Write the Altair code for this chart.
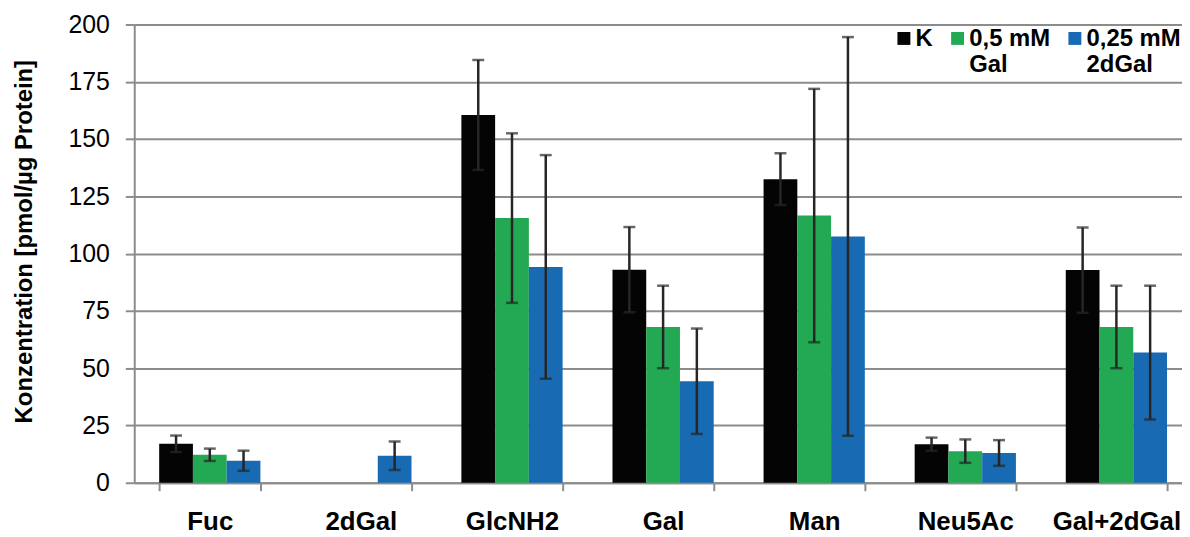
import altair as alt
import pandas as pd

categories = ["Fuc", "2dGal", "GlcNH2", "Gal", "Man", "Neu5Ac", "Gal+2dGal"]
groups = ["K", "0,5 mM Gal", "0,25 mM 2dGal"]
colors = ["#040404", "#23A853", "#186AB3"]

k_vals = [17.0, None, 160.5, 93.0, 132.5, 16.8, 92.8]
k_err = [3.6, None, 24.0, 18.6, 11.3, 2.9, 18.6]
gal_vals = [12.2, None, 115.5, 68.0, 116.6, 13.8, 68.0]
gal_err = [2.7, None, 37.0, 18.0, 55.3, 5.1, 18.0]
dgal_vals = [9.6, 11.8, 94.2, 44.3, 107.5, 13.0, 56.8]
dgal_err = [4.4, 6.2, 48.8, 23.0, 87.0, 5.6, 29.2]

y_ticks = [0, 25, 50, 75, 100, 125, 150, 175, 200]

rows = []
for g, vals, errs in zip(groups, [k_vals, gal_vals, dgal_vals], [k_err, gal_err, dgal_err]):
    for c, v, e in zip(categories, vals, errs):
        if v is None:
            continue
        rows.append(dict(cat=c, group=g, value=v, lo=v - e, hi=v + e))
df = pd.DataFrame(rows)

FONT = "Liberation Sans"
GRAY = "#8C8C8C"
YTITLE = "Konzentration [pmol/µg Protein]"

x_enc = alt.X(
    "cat:N", sort=categories, title=None,
    scale=alt.Scale(paddingInner=0.33, paddingOuter=0.165, range=[0, 1064]),
    axis=alt.Axis(labelAngle=0, labelFontSize=26, labelFontWeight="bold", labelColor="black",
                  labelFont=FONT, labelPadding=18, tickBand="extent", tickSize=8,
                  tickColor=GRAY, tickWidth=2, domainColor=GRAY, domainWidth=2, grid=False),
)
xo_enc = alt.XOffset("group:N", sort=groups, scale=alt.Scale(paddingInner=0, paddingOuter=0))
y_scale = alt.Scale(domain=[0, 200], nice=False)
y_axis = alt.Axis(values=y_ticks, labelFontSize=25, labelColor="black", labelFont=FONT,
                  labelPadding=16, tickSize=9, tickColor=GRAY, tickWidth=2,
                  domainColor=GRAY, domainWidth=2, grid=True, gridColor=GRAY, gridWidth=2,
                  titleFontSize=24, titleFont=FONT, titleFontWeight="bold", titleColor="black",
                  titleAngle=270, titleX=-110, titleY=218, titleAlign="center", titleBaseline="middle")

base = alt.Chart(df)

bars = base.mark_bar().encode(
    x=x_enc, xOffset=xo_enc,
    y=alt.Y("value:Q", scale=y_scale, axis=y_axis, title=YTITLE),
    color=alt.Color("group:N", sort=groups, scale=alt.Scale(domain=groups, range=colors),
                    legend=alt.Legend(orient="none", legendX=759, legendY=-9, direction="horizontal",
                                      columns=3, title=None,
                                      symbolType="M-0.5,0.7H1.5V2.7H-0.5Z", symbolSize=169,
                                      symbolStrokeWidth=0, labelFontSize=24, labelFontWeight="bold",
                                      labelFont=FONT, labelColor="black",
                                      labelExpr="datum.label == 'K' ? ['K', ' '] : split(replace(datum.label, ' mM ', ' mM|'), '|')",
                                      columnPadding=9, labelOffset=3, labelBaseline="top")),
)

rule = base.mark_rule(color="#262626", strokeWidth=2.5).encode(
    x=x_enc, xOffset=xo_enc,
    y=alt.Y("lo:Q", scale=y_scale, title=YTITLE), y2="hi:Q",
)
cap_lo = base.mark_tick(color="#262626", size=12, thickness=2.5, orient="horizontal").encode(
    x=x_enc, xOffset=xo_enc, y=alt.Y("lo:Q", scale=y_scale, title=YTITLE),
)
cap_hi = base.mark_tick(color="#262626", size=12, thickness=2.5, orient="horizontal").encode(
    x=x_enc, xOffset=xo_enc, y=alt.Y("hi:Q", scale=y_scale, title=YTITLE),
)

chart = alt.layer(bars, rule, cap_lo, cap_hi).properties(
    width=1054, height=461,
    autosize=alt.AutoSizeParams(type="none"),
    padding={"left": 127, "top": 15, "right": 0, "bottom": 53},
    background="white",
).configure_view(stroke=None)

chart.save("out.html", embed_options={"renderer": "svg", "actions": False})
